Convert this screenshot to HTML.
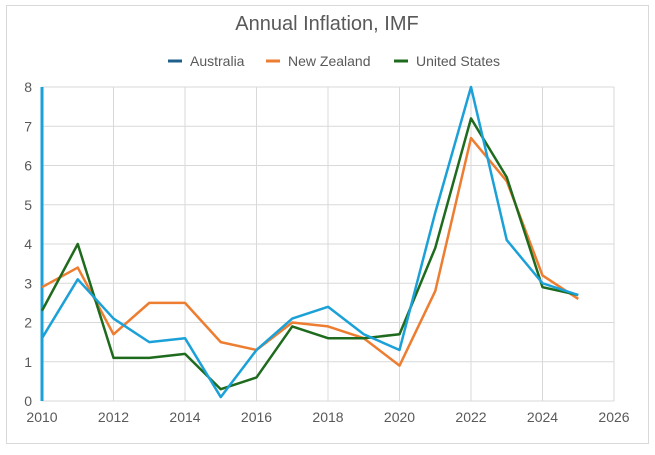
<!DOCTYPE html>
<html><head><meta charset="utf-8"><style>
body{margin:0;background:#fff;font-family:"Liberation Sans",sans-serif}
svg text{font-family:"Liberation Sans",sans-serif}
</style></head><body>
<svg width="655" height="450">
<rect x="6.5" y="5.5" width="642" height="438" fill="#fff" stroke="#d9d9d9"/>
<text x="327" y="30" text-anchor="middle" font-size="20" fill="#595959">Annual Inflation, IMF</text>
<g id="grid"></g><g id="series"></g><g id="legend"></g>
</svg>
<script>
const years=[2010,2011,2012,2013,2014,2015,2016,2017,2018,2019,2020,2021,2022,2023,2024,2025];
const australia=[1.6,3.1,2.1,1.5,1.6,0.1,1.3,2.1,2.4,1.7,1.3,4.8,8.0,4.1,3.0,2.7];
const newZealand=[2.9,3.4,1.7,2.5,2.5,1.5,1.3,2.0,1.9,1.6,0.9,2.8,6.7,5.6,3.2,2.6];
const unitedStates=[2.3,4.0,1.1,1.1,1.2,0.3,0.6,1.9,1.6,1.6,1.7,3.9,7.2,5.7,2.9,2.7];
const xTicks=[2010,2012,2014,2016,2018,2020,2022,2024,2026];
const yTicks=[0,1,2,3,4,5,6,7,8];
const NS="http://www.w3.org/2000/svg";
const x=v=>42+(v-2010)*(614-42)/16;
const y=v=>401-v*(401-87)/8;
function mk(t,a,p){const e=document.createElementNS(NS,t);for(const k in a)e.setAttribute(k,a[k]);p.appendChild(e);return e;}
const g=document.getElementById('grid');
yTicks.forEach(v=>{const l=mk('line',{x1:42,x2:614,y1:y(v),y2:y(v),stroke:'#d9d9d9'},g);


const t=mk('text',{x:32,y:y(v)+5,'text-anchor':'end','font-size':14,fill:'#595959'},g);t.textContent=v;

});
xTicks.forEach(v=>{const l=mk('line',{x1:x(v),x2:x(v),y1:87,y2:401,stroke:'#d9d9d9'},g);


const t=mk('text',{x:x(v),y:422,'text-anchor':'middle','font-size':14,fill:'#595959'},g);t.textContent=v;

});
const ax=mk('line',{x1:42,x2:42,y1:87,y2:401,stroke:'#1ba1d8','stroke-width':3},g);


const s=document.getElementById('series');
[[newZealand,'#ed7d31','new-zealand-line'],[unitedStates,'#1e6b1e','united-states-line'],[australia,'#1ba1d8','australia-line']].forEach(([d,c,n])=>{
const p=mk('polyline',{points:d.map((v,i)=>x(years[i])+','+y(v)).join(' '),fill:'none',stroke:c,'stroke-width':2.5,'stroke-linejoin':'round'},s);

});
const lg=document.getElementById('legend');
[['Australia','#1f5f8b',168],['New Zealand','#ed7d31',266],['United States','#1e6b1e',394]].forEach(([n,c,lx])=>{
const l=mk('line',{x1:lx,x2:lx+14,y1:61,y2:61,stroke:c,'stroke-width':3},lg);


const t=mk('text',{x:lx+22,y:66,'font-size':14,fill:'#595959'},lg);t.textContent=n;

});
</script>
</body></html>
